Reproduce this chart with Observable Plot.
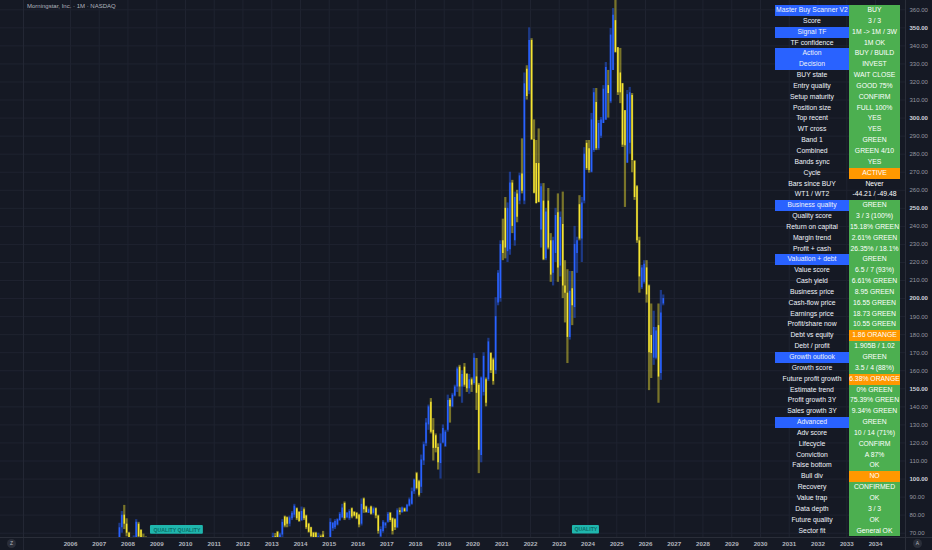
<!DOCTYPE html>
<html><head><meta charset="utf-8">
<script src="https://cdn.jsdelivr.net/npm/d3@7"></script>
<script src="https://cdn.jsdelivr.net/npm/@observablehq/plot@0.6"></script>
<style>
html,body{margin:0;padding:0;background:#151924;}
#wrap{position:relative;width:932px;height:550px;overflow:hidden;font-family:"Liberation Sans",Arial,sans-serif;}
#title{position:absolute;left:27px;top:3px;font-size:6px;color:#b2b5be;white-space:nowrap;}
#tbl{position:absolute;left:775px;top:5px;width:125px;}
.row{display:flex;height:10.85px;line-height:10.85px;font-size:6.8px;color:#f0f3fa;text-align:center;white-space:nowrap;}
.lab{width:74px;overflow:hidden;}
.val{width:51px;overflow:hidden;color:#fff;}
.vline{position:absolute;top:0;width:1px;background:#232734;}
.hline{position:absolute;left:0;height:1px;background:#2a2e39;}
.btn{position:absolute;width:9px;height:9px;border-radius:50%;background:#2a2e39;color:#b2b5be;font-size:5px;line-height:9px;text-align:center;}
</style></head>
<body>
<div id="wrap">
  <div id="chart"></div>
  <div class="vline" style="left:23px;height:550px;"></div>
  <div class="vline" style="left:905px;height:550px;background:#2a2e39;"></div>
  <div class="hline" style="top:537px;width:932px;"></div>
  <div id="title">Morningstar, Inc. · 1M · NASDAQ</div>
  <div id="tbl"></div>
  <div class="btn" style="left:7px;top:539px;">Z</div>
  <div class="btn" style="left:913px;top:539px;">A</div>
</div>
<script>
// ---- Monthly candles (YYYY-MM) ----
const months = [
"2007-08","2007-09","2007-10","2007-11","2007-12","2008-01","2008-02","2008-03","2008-04","2008-05","2008-06","2008-07","2008-08",
"2013-01","2013-02","2013-03","2013-04","2013-05","2013-06","2013-07","2013-08","2013-09","2013-10","2013-11","2013-12",
"2014-01","2014-02","2014-03","2014-04","2014-05","2014-06","2014-07","2014-08","2014-09","2014-10","2014-11","2014-12",
"2015-01","2015-02","2015-03","2015-04","2015-05","2015-06","2015-07","2015-08","2015-09","2015-10","2015-11","2015-12",
"2016-01","2016-02","2016-03","2016-04","2016-05","2016-06","2016-07","2016-08","2016-09","2016-10","2016-11","2016-12",
"2017-01","2017-02","2017-03","2017-04","2017-05","2017-06","2017-07","2017-08","2017-09","2017-10","2017-11","2017-12",
"2018-01","2018-02","2018-03","2018-04","2018-05","2018-06","2018-07","2018-08","2018-09","2018-10","2018-11","2018-12",
"2019-01","2019-02","2019-03","2019-04","2019-05","2019-06","2019-07","2019-08","2019-09","2019-10","2019-11","2019-12",
"2020-01","2020-02","2020-03","2020-04","2020-05","2020-06","2020-07","2020-08","2020-09","2020-10","2020-11","2020-12",
"2021-01","2021-02","2021-03","2021-04","2021-05","2021-06","2021-07","2021-08","2021-09","2021-10","2021-11","2021-12",
"2022-01","2022-02","2022-03","2022-04","2022-05","2022-06","2022-07","2022-08","2022-09","2022-10","2022-11","2022-12",
"2023-01","2023-02","2023-03","2023-04","2023-05","2023-06","2023-07","2023-08","2023-09","2023-10","2023-11","2023-12",
"2024-01","2024-02","2024-03","2024-04","2024-05","2024-06","2024-07","2024-08","2024-09","2024-10","2024-11","2024-12",
"2025-01","2025-02","2025-03","2025-04","2025-05","2025-06","2025-07","2025-08","2025-09","2025-10","2025-11","2025-12",
"2026-01","2026-02","2026-03","2026-04","2026-05","2026-06","2026-07","2026-08"];

const opens = [
55,60,73,80,75,70,60,62,66,75,71.5,62,60,
65,68,70.5,67,69,79,78.5,75,78,80,83.5,81.5,
77,83,79.5,75,73,70,70,64,68,69,64,65,
64,72.5,73,74.5,77,78.5,86.5,78.5,78,83.5,81.5,81,
80,75,89,84.5,81,84.5,81,83.5,79.5,68,71,74,
76,81,78,77.5,73,82.5,81.5,83.5,82,85,86,93,
103,98.5,95.5,110,119.5,130,142.5,127,124,117.5,108.6,120,
118,127,143.6,140,146,151,162,151,162,158,150,155,
153,156.6,152,113,148,155,155,169.5,166,160,197.5,200,
232,250,226,227,264,232,258,254,269,254,327,315,
343,288,274.8,274.8,238,254,222,254,232,214,225,247.5,
218,241,207,203,178.5,205.5,195,225,252,233,254,286,
283,270,282,308.7,283,290,297,299,318,309,326.4,354,
339,325,319,304,275,286,312.5,276,262,232,206,209,
217,207,179.5,167,167,185,158.5,197];

const highs = [
62,75.5,82,85.4,78,70.5,66,68.5,77.5,76,72,69.5,68,
70,69.8,71,70,77.5,79.5,79,79.5,82,86,84,82,
84.5,84,80,75.5,73.3,70.5,70.5,70,69,71,67,67,
78,76,77.5,78,81.5,86,87.3,81.5,83,84,82,81.5,
80.5,89,89.5,85,84,85,84.5,84,80,73.5,77,76,
81.5,81.5,78.5,78,83.5,84,84.5,84,86,89.5,95,100,
103.7,99.3,113.3,120.5,133.5,141,144.6,133.5,125,119.5,125,130,
127,146.5,144.6,147.5,152,162,163,160,164,158.5,158,156,
169.5,166.8,153,156.6,170,156,178,170,167,200.5,215.5,232,
244,256,253,270,265.5,259,260,269.5,288.5,325,329,350,
344,299,287.6,294,263.6,263.7,250,261,236,234,250,258,
248,259,221,216,215,215,240,234,257,256,283.6,287.6,
287.6,302.6,316.4,316.4,298.7,300.3,318,330.8,326.4,349.6,360.7,366,
339.1,338.6,319.2,304.2,315.3,317,313.6,276.5,262.6,234,218.4,221,
221,207.5,197,193,184,197,204.5,202];

const lows = [
52,58,70,72,68,55,55,58,64,66,60,58,55,
63,64,66,63,67,73,73,73.5,77,78.5,77,76,
76.5,77,72,70,66,65,63,62,61,60,62,61,
63,71,72,74,76.5,78,77,78,77,78,79,77.5,
73,74,81,81,81,80,80,78,69.5,66,70,72.5,
75.5,76,69,71.5,72.5,80,81,81.5,81.5,84.5,85.5,91.5,
94,90,92,107.5,118,127,125,110,114.5,105,100,119.5,
117.5,126,131,139.5,145.5,148,145.5,142,150.9,148,147,148,
152,138,103,109,146,140,154,158.5,152,158,196,198,
221,222,220,224,236,229,242,252,258,252,310,313,
287.6,258,252.6,253,228,221,221,227,209,207,220,209,
212,200,186.5,164,177,185,189,214,232,220,252.5,271,
269.5,269.6,281,282,282,288.7,297,298.7,300,308,326.4,336,
312.5,308,283.7,250.5,275,280,269.7,254.4,230.6,203,205,208,
197.5,149,155.7,163,166,142,154.7,196];

const closes = [
60,73,80,75,70,60,62,66,76,68,62,60,58,
68,67,67,69,76,74,75,78.5,81,85,78,76.5,
82,78,73,70.5,68,67,64,68,62,64,65,64,
76,75.5,76.5,77.5,80.5,84,78,81,82,79,79.5,78,
74.5,86,83,81.5,83,80.5,83.5,79.5,71,72,76,75.5,
80.5,77,71,73,82.5,81.5,84,82,85.5,88.5,93,99.5,
94.8,91,110.5,119,131,140,126,117,117,109,119.5,128,
126,143.5,140,146.5,151,161,151,158,152,150,155,152,
167,147.5,116,156,168,142,176,160,154,190,214,230,
225,228,250,264,240,256,245,268,259.5,319,312,343,
288,258.3,252.6,253.3,262,221.5,248,228,213,232,246,217,
245,207,203,178.5,204,196,230,232,233,253,280,272,
271,299,314,283,297,299,316,328,313.6,346,357,336.4,
314,314,285,284.7,313,314,276.5,256,232,212,217,219,
202,170,169.6,184,182,156.5,192,200];

// ---- Axis ticks ----
const yearTicks = d3.range(2006, 2035);
const priceTicks = d3.range(70, 361, 10);
const boldPriceTicks = [100, 150, 200, 250, 300, 350];

// ---- Script labels on chart ----
const badgeStart = ["2008-10-13", "2023-06-18"];
const badgeEnd   = ["2010-08-16", "2024-05-26"];
const badgeLow   = [69.4, 69.6];
const badgeHigh  = [74.3, 74.3];
const badgeText  = ["QUALITY QUALITY", "QUALITY"];

// ---- Scanner table ----
const tableLabels = ["Master Buy Scanner V2","Score","Signal TF","TF confidence","Action","Decision","BUY state","Entry quality","Setup maturity","Position size","Top recent","WT cross","Band 1","Combined","Bands sync","Cycle","Bars since BUY","WT1 / WT2","Business quality","Quality score","Return on capital","Margin trend","Profit + cash","Valuation + debt","Value score","Cash yield","Business price","Cash-flow price","Earnings price","Profit/share now","Debt vs equity","Debt / profit","Growth outlook","Growth score","Future profit growth","Estimate trend","Profit growth 3Y","Sales growth 3Y","Advanced","Adv score","Lifecycle","Conviction","False bottom","Bull div","Recovery","Value trap","Data depth","Future quality","Sector fit"];
const tableValues = ["BUY","3 / 3","1M -> 1M / 3W","1M OK","BUY / BUILD","INVEST","WAIT CLOSE","GOOD 75%","CONFIRM","FULL 100%","YES","YES","GREEN","GREEN 4/10","YES","ACTIVE","Never","-44.21 / -49.48","GREEN","3 / 3 (100%)","15.18% GREEN","2.61% GREEN","26.35% / 18.1%","GREEN","6.5 / 7 (93%)","6.61% GREEN","8.95 GREEN","16.55 GREEN","18.73 GREEN","10.55 GREEN","1.86 ORANGE","1.905B / 1.02","GREEN","3.5 / 4 (88%)","6.38% ORANGE","0% GREEN","75.39% GREEN","9.34% GREEN","GREEN","10 / 14 (71%)","CONFIRM","A 87%","OK","NO","CONFIRMED","OK","3 / 3","OK","General OK"];
const headerRows = [0, 2, 4, 5, 18, 23, 32, 38];
const orangeRows = [15, 30, 34, 43];
const plainRows = [16, 17];

// ---- Build ----
const upColor = "#2962ff", downColor = "#f5e431";
const candles = months.map((m, i) => ({
  date: new Date(m + "-15T00:00:00Z"),
  open: opens[i], high: highs[i], low: lows[i], close: closes[i],
  color: closes[i] >= opens[i] ? upColor : downColor
}));
const years = yearTicks.map(y => new Date(Date.UTC(y, 0, 1)));
const badges = badgeText.map((t, i) => ({
  x1: new Date(badgeStart[i] + "T00:00:00Z"), x2: new Date(badgeEnd[i] + "T00:00:00Z"),
  y1: badgeLow[i], y2: badgeHigh[i], text: t
}));
const regularTicks = priceTicks.filter(t => !boldPriceTicks.includes(t));

const chart = Plot.plot({
  width: 932, height: 550,
  marginTop: 0, marginRight: 27, marginBottom: 13, marginLeft: 0,
  style: {background: "#151924", color: "#b2b5be", fontFamily: "Liberation Sans, Arial, sans-serif", overflow: "visible"},
  x: {type: "utc", domain: [new Date(Date.UTC(2006,0,1)), new Date(Date.UTC(2034,0,1))], range: [70, 875]},
  y: {domain: [70, 360], range: [532.7, 9.3]},
  marks: [
    Plot.ruleX(years, {stroke: "#1f2330", strokeWidth: 1}),
    Plot.ruleY(priceTicks, {stroke: "#1f2330", strokeWidth: 1}),
    Plot.ruleX(candles, {x: "date", y1: "low", y2: "high", stroke: "color", strokeOpacity: 0.45, strokeWidth: 2.2, clip: true}),
    Plot.ruleX(candles, {x: "date", y1: "open", y2: "close", stroke: "color", strokeWidth: 1.5, clip: true}),
    Plot.rect(badges, {x1: "x1", x2: "x2", y1: "y1", y2: "y2", fill: "#1fb6ad", rx: 1}),
    Plot.text(badges, {x: d => new Date((+d.x1 + +d.x2) / 2), y: d => (d.y1 + d.y2) / 2, text: "text", fill: "#0b6d67", fontSize: 5.2, fontWeight: 600}),
    Plot.axisX(years, {anchor: "bottom", tickSize: 0, tickPadding: 4, tickFormat: d3.utcFormat("%Y"), fontSize: 6.2, fontWeight: 600, fill: "#b2b5be", label: null}),
    Plot.axisY(regularTicks, {anchor: "right", tickSize: 0, tickPadding: 4, tickFormat: d => d.toFixed(2), fontSize: 6, fill: "#9598a1", label: null}),
    Plot.axisY(boldPriceTicks, {anchor: "right", tickSize: 0, tickPadding: 4, tickFormat: d => d.toFixed(2), fontSize: 6, fontWeight: 700, fill: "#d1d4dc", label: null})
  ]
});
document.getElementById("chart").appendChild(chart);

const tbl = document.getElementById("tbl");
tableLabels.forEach((lab, i) => {
  const row = document.createElement("div");
  row.className = "row";
  const l = document.createElement("div");
  l.className = "lab"; l.textContent = lab;
  if (headerRows.includes(i)) l.style.background = "#2962ff";
  const v = document.createElement("div");
  v.className = "val"; v.textContent = tableValues[i];
  if (orangeRows.includes(i)) v.style.background = "#ff9800";
  else if (!plainRows.includes(i)) v.style.background = "#4caf50";
  row.appendChild(l); row.appendChild(v);
  tbl.appendChild(row);
});
</script>
</body></html>
